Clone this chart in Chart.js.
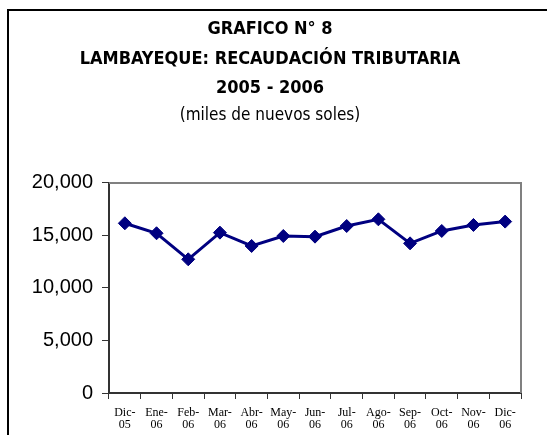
<!DOCTYPE html>
<html><head><meta charset="utf-8">
<script src="https://cdn.jsdelivr.net/npm/chart.js@4/dist/chart.umd.min.js"></script>
<style>html,body{margin:0;padding:0;background:#fff}#wrap{width:547px;height:435px}</style>
</head><body><div id="wrap"><canvas id="c" width="547" height="435"></canvas></div>
<script>
const categories = [["Dic-","05"],["Ene-","06"],["Feb-","06"],["Mar-","06"],["Abr-","06"],["May-","06"],["Jun-","06"],["Jul-","06"],["Ago-","06"],["Sep-","06"],["Oct-","06"],["Nov-","06"],["Dic-","06"]];
const recaudacion = [16160, 15210, 12730, 15270, 14000, 14950, 14890, 15900, 16540, 14250, 15430, 16000, 16320];
const titleLines = ["GRAFICO N° 8", "LAMBAYEQUE: RECAUDACIÓN TRIBUTARIA", "2005 - 2006"];
const subtitleText = "(miles de nuevos soles)";

const NARROW = "'Liberation Sans Narrow', 'Arial Narrow', 'DejaVu Sans Condensed', sans-serif";

const frame = {
  id: 'frame',
  beforeDraw(chart) {
    const ctx = chart.ctx;
    ctx.save();
    ctx.fillStyle = '#fff';
    ctx.fillRect(0, 0, chart.width, chart.height);
    ctx.strokeStyle = '#000';
    ctx.lineWidth = 2;
    ctx.beginPath();
    ctx.moveTo(8, 440);
    ctx.lineTo(8, 10);
    ctx.lineTo(560, 10);
    ctx.stroke();
    ctx.restore();
  },
  beforeDatasetsDraw(chart) {
    const a = chart.chartArea, ctx = chart.ctx;
    ctx.save();
    ctx.strokeStyle = '#808080';
    ctx.lineWidth = 2;
    ctx.beginPath();
    ctx.moveTo(a.left, a.top);
    ctx.lineTo(a.right, a.top);
    ctx.lineTo(a.right, a.bottom);
    ctx.stroke();
    ctx.restore();
  }
};

new Chart(document.getElementById('c'), {
  type: 'line',
  data: {
    labels: categories,
    datasets: [{
      data: recaudacion,
      borderColor: '#000080',
      backgroundColor: '#000080',
      borderWidth: 3,
      pointStyle: 'rectRot',
      pointRadius: 6.5,
      pointBorderWidth: 1,
      pointBackgroundColor: '#000080',
      pointBorderColor: '#000080',
      tension: 0
    }]
  },
  options: {
    responsive: false,
    animation: false,
    layout: { padding: { left: 19, right: 26, top: 0, bottom: 0 } },
    plugins: {
      legend: { display: false },
      tooltip: { enabled: false },
      title: {
        display: true,
        text: titleLines,
        color: '#000',
        font: { family: NARROW, size: 18, weight: 'bold', lineHeight: 1.64 },
        padding: { top: 15, bottom: 2 }
      },
      subtitle: {
        display: true,
        text: subtitleText,
        color: '#000',
        font: { family: NARROW, size: 17, weight: 'normal', lineHeight: 1.2 },
        padding: { top: 0, bottom: 57 }
      }
    },
    scales: {
      x: {
        offset: true,
        grid: { display: true, offset: true, drawOnChartArea: false, drawTicks: true, tickLength: 6, color: '#333', lineWidth: 1 },
        border: { display: true, color: '#333', width: 2 },
        ticks: { color: '#000', font: { family: "'Liberation Serif', 'Times New Roman', serif", size: 12, lineHeight: 1.0 }, maxRotation: 0, autoSkip: false, padding: 8 },
        afterFit(s) { s.height = 42; }
      },
      y: {
        min: 0, max: 20000,
        grid: { display: true, drawOnChartArea: false, drawTicks: true, tickLength: 7, color: '#333', lineWidth: 1 },
        border: { display: true, color: '#333', width: 2 },
        ticks: { stepSize: 5000, color: '#000', font: { family: "'Liberation Sans', Arial, sans-serif", size: 20 }, padding: 9,
          callback: v => v.toLocaleString('en-US') },
        afterFit(s) { s.width = 90; }
      }
    }
  },
  plugins: [frame]
});
</script></body></html>
